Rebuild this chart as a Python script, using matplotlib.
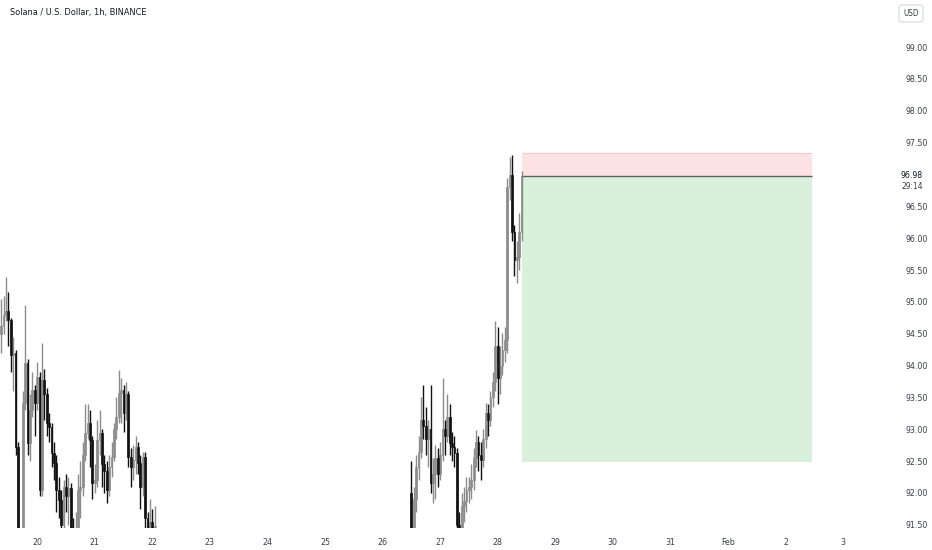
import pandas as pd
import matplotlib
matplotlib.use("Agg")
import matplotlib.pyplot as plt
import matplotlib.dates as mdates
from matplotlib import font_manager
from matplotlib.patches import FancyBboxPatch

# narrow font like the TradingView screenshot, if one is around
names = {(f.name, f.stretch) for f in font_manager.fontManager.ttflist}
if any(n == "Liberation Sans Narrow" for n, s in names):
    plt.rcParams['font.family'] = ['Liberation Sans Narrow', 'DejaVu Sans']
    fs = 7
elif ("DejaVu Sans", "condensed") in names or ("DejaVu Sans", 87.5) in names:
    plt.rcParams['font.family'] = ['DejaVu Sans']
    plt.rcParams['font.stretch'] = 'condensed'
    fs = 6.3
else:
    plt.rcParams['font.family'] = ['DejaVu Sans']
    fs = 5.8

# hourly candles, first visible block (Jan 19 09:00 -> Jan 22 01:00)
left_open0 = 94.50
left_close = [94.62, 94.80, 94.85, 94.72, 94.17, 94.20, 92.72, 91.30, 91.20, 93.41,
              94.04, 92.79, 93.30, 93.62, 93.41, 93.82, 92.05, 93.77, 93.55, 93.10,
              93.04, 92.63, 92.47, 92.05, 91.89, 91.50, 92.10, 91.95, 92.08, 91.40,
              91.30, 91.45, 92.05, 92.10, 92.60, 92.94, 93.10, 92.83, 92.15, 92.21,
              92.83, 92.94, 92.45, 92.35, 92.05, 92.40, 92.57, 93.00, 93.19, 93.57,
              93.62, 93.25, 93.55, 92.57, 92.40, 92.52, 92.72, 92.47, 92.10, 92.57,
              91.60, 91.45, 91.55, 91.40, 91.48]
left_high = [95.05, 95.10, 95.39, 95.15, 94.75, 94.45, 94.25, 92.80, 91.45, 93.60,
             94.95, 94.10, 93.55, 93.90, 93.70, 94.05, 93.90, 94.35, 93.95, 93.65,
             93.25, 93.10, 92.80, 92.60, 92.25, 92.05, 92.20, 92.30, 92.25, 92.15,
             91.60, 91.70, 92.30, 92.50, 92.80, 93.40, 93.40, 93.30, 92.90, 92.45,
             93.15, 93.30, 93.00, 92.60, 92.50, 92.60, 92.80, 93.10, 93.50, 93.93,
             93.80, 93.70, 93.75, 93.60, 92.70, 92.75, 92.90, 92.80, 92.60, 92.65,
             92.65, 91.70, 91.90, 91.75, 91.80]
left_low = [94.20, 94.50, 94.70, 94.30, 93.90, 93.60, 92.60, 91.20, 91.00, 91.10,
            93.30, 92.60, 92.50, 93.20, 92.90, 93.30, 91.95, 91.95, 93.15, 92.90,
            92.80, 92.40, 92.20, 91.70, 91.60, 91.35, 91.40, 91.70, 91.50, 91.30,
            91.10, 91.20, 91.40, 91.60, 91.95, 92.50, 92.85, 92.40, 91.90, 92.00,
            92.10, 92.60, 92.10, 92.00, 91.85, 91.95, 92.25, 92.50, 92.85, 93.10,
            93.10, 92.95, 93.15, 92.40, 92.10, 92.20, 92.30, 92.30, 91.75, 91.95,
            91.40, 91.30, 91.35, 91.30, 91.35]

# second visible block (Jan 26 12:00 -> Jan 28 10:00)
right_open0 = 92.00
right_close = [91.40, 91.90, 92.41, 92.65, 93.15, 93.05, 92.85, 93.00, 92.15, 92.30,
               92.55, 92.30, 92.60, 93.00, 92.90, 93.20, 92.79, 92.72, 92.63, 91.50,
               91.40, 91.80, 91.88, 92.05, 92.10, 92.20, 92.55, 92.80, 92.60, 92.52,
               92.85, 93.25, 93.15, 93.50, 93.75, 94.30, 93.80, 94.00, 94.25, 94.40,
               96.80, 97.00, 96.10, 95.65, 95.70, 96.10, 96.98]
right_high = [92.50, 92.10, 92.60, 92.90, 93.51, 93.70, 93.35, 93.15, 93.70, 92.55,
              92.75, 92.70, 92.80, 93.80, 93.15, 93.55, 93.40, 92.95, 92.90, 92.70,
              91.70, 92.00, 92.10, 92.25, 92.25, 92.45, 92.70, 92.99, 92.90, 92.80,
              93.00, 93.41, 93.40, 93.60, 93.90, 94.70, 94.60, 94.30, 94.51, 94.60,
              96.95, 97.27, 97.30, 96.20, 95.95, 96.40, 97.05]
right_low = [91.20, 91.30, 91.70, 92.20, 92.55, 92.85, 92.60, 92.40, 92.00, 91.85,
             91.90, 92.10, 92.20, 92.50, 92.60, 92.80, 92.60, 92.50, 92.40, 91.35,
             91.20, 91.30, 91.55, 91.70, 91.85, 91.90, 92.05, 92.40, 92.35, 92.20,
             92.40, 92.70, 92.90, 93.05, 93.35, 93.60, 93.40, 93.55, 93.85, 94.05,
             94.20, 96.60, 95.95, 95.40, 95.30, 95.50, 95.95]

# short position tool
entry_price = 96.98
stop_price = 97.33
target_price = 92.48
box_start = "2024-01-28 10:00"
box_end = "2024-02-02 11:00"

day_ticks = ["2024-01-20", "2024-01-21", "2024-01-22", "2024-01-23", "2024-01-24",
             "2024-01-25", "2024-01-26", "2024-01-27", "2024-01-28", "2024-01-29",
             "2024-01-30", "2024-01-31", "2024-02-01", "2024-02-02", "2024-02-03"]
day_labels = ["20", "21", "22", "23", "24", "25", "26", "27", "28", "29",
              "30", "31", "Feb", "2", "3"]
price_ticks = [91.5, 92.0, 92.5, 93.0, 93.5, 94.0, 94.5, 95.0, 95.5, 96.0,
               96.5, 97.5, 98.0, 98.5, 99.0]


def make_df(start, open0, close, high, low):
    df = pd.DataFrame({"close": close, "high": high, "low": low},
                      index=pd.date_range(start, periods=len(close), freq="h"))
    df["open"] = [open0] + close[:-1]
    return df


left = make_df("2024-01-19 09:00", left_open0, left_close, left_high, left_low)
right = make_df("2024-01-26 12:00", right_open0, right_close, right_high, right_low)
candles = pd.concat([left, right])

fig = plt.figure(figsize=(9.32, 5.5), dpi=100)
ax = fig.add_axes([0, 22 / 550, 897 / 932, 528 / 550])

up = candles[candles["close"] >= candles["open"]]
dn = candles[candles["close"] < candles["open"]]
w = 0.75 / 24
for d, col in [(up, "#8c8c8c"), (dn, "#111111")]:
    x = mdates.date2num(d.index.to_pydatetime())
    ax.vlines(x, d["low"], d["high"], color=col, lw=1.0)
    bottom = d[["open", "close"]].min(axis=1)
    height = (d["close"] - d["open"]).abs().clip(lower=0.02)
    ax.bar(x, height, bottom=bottom, width=w, color=col, edgecolor=col, lw=0.5)

# position box
x0 = mdates.date2num(pd.Timestamp(box_start))
x1 = mdates.date2num(pd.Timestamp(box_end))
ax.fill_between([x0, x1], entry_price, stop_price, color="#fde2e4", lw=0)
ax.fill_between([x0, x1], target_price, entry_price, color="#d9f0da", lw=0)
ax.hlines(stop_price, x0, x1, color="#f8c8cc", lw=0.8)
ax.hlines(entry_price, x0, x1, color="#5d606b", lw=1)

ax.set_xlim(mdates.date2num(pd.Timestamp("2024-01-19 09:00")) - 0.5 / 24,
            mdates.date2num(pd.Timestamp("2024-02-03 22:30")))
ax.set_ylim(91.45, 99.74)

ax.set_xticks(mdates.date2num(pd.to_datetime(day_ticks).to_pydatetime()))
ax.set_xticklabels(day_labels)
ax.yaxis.tick_right()
ax.set_yticks(price_ticks)
ax.set_yticklabels(["%.2f" % p for p in price_ticks])
ax.tick_params(axis="both", length=0, labelsize=fs, colors="#3b3e47")
ax.tick_params(axis="x", pad=7)
ax.tick_params(axis="y", pad=6)
for s in ax.spines.values():
    s.set_visible(False)

# last price label + countdown
tr = ax.get_yaxis_transform()
ax.text(1.0 + 15 / 897, entry_price, "96.98", transform=tr, fontsize=fs,
        color="#131722", ha="center", va="center")
ax.text(1.0 + 15 / 897, entry_price - 0.17, "29:14", transform=tr, fontsize=fs - 0.3,
        color="#3b3e47", ha="center", va="center")

fig.text(10 / 932, 1 - 12 / 550, "Solana / U.S. Dollar, 1h, BINANCE",
         fontsize=fs + 0.3, color="#131722", va="center", ha="left")

usd = FancyBboxPatch((899 / 932, 1 - 22 / 550), 24 / 932, 17 / 550,
                     boxstyle="round,pad=0,rounding_size=0.004",
                     transform=fig.transFigure, facecolor="white",
                     edgecolor="#d7d9de", lw=0.8)
fig.patches.append(usd)
fig.text(911 / 932, 1 - 13.5 / 550, "USD", fontsize=fs - 0.5, color="#3b3e47",
         ha="center", va="center")

fig.savefig("out.png", dpi=100, facecolor="white")
